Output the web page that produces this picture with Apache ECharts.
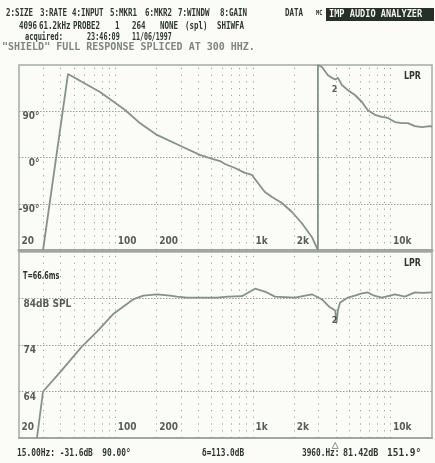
<!DOCTYPE html>
<html><head><meta charset="utf-8">
<script src="https://cdn.jsdelivr.net/npm/echarts@6/dist/echarts.min.js"></script>
<style>html,body{margin:0;padding:0;background:#fbfbf7}#c{width:435px;height:463px}</style>
</head><body><div id="c"></div><script>
// Phase response (degrees, wrapped to +/-180)
const phaseFreqHz = [29.9, 45.4, 77.5, 118, 151, 201, 310, 412, 513, 577, 627, 741, 875, 984, 1088, 1222, 1376, 1626, 1922, 2270, 2685, 2967, 2967, 3173, 3508, 3750, 3960, 4148, 4432, 4899, 5508, 6194, 6842, 7698, 8650, 9572, 10760, 12080, 13360, 15030, 16900, 19320, 20000];
const phaseDeg    = [-180, 162.5, 127.5, 92.4, 67, 44, 20.4, 5, -3, -7, -12.7, -20.4, -30, -34, -49.6, -67, -77, -88.5, -106, -128, -155, -180, 180, 176, 160, 155, 151.9, 155, 141, 131, 121.6, 108, 92, 83, 79, 77, 69, 67, 67, 61, 59, 61, 60];

// Magnitude response (dB SPL)
const levelFreqHz = [27, 29.9, 39.7, 57.4, 73.7, 96.3, 134.6, 160, 201, 250, 281, 332, 548, 659, 832, 1035, 1222, 1446, 2018, 2685, 3173, 3628, 3960, 4050, 4150, 4288, 4899, 5500, 6194, 6842, 7600, 8650, 10760, 12706, 15030, 17000, 19960];
const levelDb     = [54, 64, 68.1, 73.7, 76.9, 80.6, 83.8, 84.6, 84.9, 84.6, 84.4, 84.2, 84.2, 84.4, 84.5, 86.1, 85.5, 84.4, 84.2, 84.9, 83.8, 82.1, 81.42, 78.8, 81.5, 83.1, 84.2, 84.6, 85.1, 85.3, 84.6, 84.2, 84.9, 84.4, 85.3, 85.2, 85.3];

// Axis ticks and labels
const freqTicks = [20, 100, 200, 1000, 2000, 10000];
const freqTickLabels = ['20', '100', '200', '1k', '2k', '10k'];
const freqGridHz = [30, 40, 50, 60, 70, 80, 90, 100, 200, 300, 400, 500, 600, 700, 800, 900, 1000, 2000, 3000, 4000, 5000, 6000, 7000, 8000, 9000, 10000];
const phaseTicks = [90, 0, -90];
const phaseTickLabels = ['90°', '0°', '-90°'];
const levelTicks = [84, 74, 64];
const levelTickLabels = ['84dB SPL', '74', '64'];

// Cursor and marker readouts
const cursorFreqHz = 15.00, cursorLevelDb = -31.6, cursorPhaseDeg = 90.00;
const markerFreqHz = [3960];
const markerLevelDb = [81.42];
const markerPhaseDeg = [151.9];

const INK = '#2c3731';
const CURVE = '#84938a';
const GRIDC = '#8c978f';
const FRAME = '#a3ada5';
const MONO = '"DejaVu Sans Mono", monospace';
const COND = '"DejaVu Sans Condensed", "Liberation Sans Narrow", "DejaVu Sans", sans-serif';

const zip = (xs, ys) => xs.map((x, i) => [x, ys[i]]);

const vGrid = freqGridHz.map(f => ({ xAxis: f }));
const hLine = { color: GRIDC, width: 1, type: [1.5, 1.5] };
const vLine = { color: GRIDC, width: 1, type: [1.2, 5.5], opacity: 0.9 };

function tickLabelSeries(xi, yi, data, style) {
  return {
    type: 'scatter', xAxisIndex: xi, yAxisIndex: yi, symbolSize: 1, silent: true,
    itemStyle: { color: 'transparent' }, animation: false, z: 5,
    data: data,
    label: Object.assign({
      show: true, formatter: p => p.name, color: INK,
      fontFamily: COND, fontWeight: 'bold', fontSize: 10
    }, style)
  };
}

function txt(x, y, s, opt) {
  opt = opt || {};
  return {
    type: 'text', x: x, y: y, scaleX: opt.sx || 0.75, z: 10, silent: true,
    style: {
      text: s, fill: opt.fill || INK, verticalAlign: 'middle', align: opt.align || 'left',
      font: (opt.weight || 'bold') + ' ' + (opt.size || 10) + 'px ' + (opt.family || MONO)
    }
  };
}

const delta = (markerLevelDb[0] - cursorLevelDb).toFixed(1);

const graphics = [
  // header, line 1
  txt(6, 13.5, '2:SIZE'), txt(40, 13.5, '3:RATE'), txt(72, 13.5, '4:INPUT'),
  txt(110, 13.5, '5:MKR1'), txt(145, 13.5, '6:MKR2'), txt(178, 13.5, '7:WINDW'),
  txt(220, 13.5, '8:GAIN'), txt(285, 13.5, 'DATA'), txt(316, 13, 'MC', { size: 7 }),
  { type: 'rect', shape: { x: 326, y: 8, width: 108, height: 13 }, style: { fill: '#26302b' }, z: 9, silent: true },
  txt(329, 14.5, 'IMP AUDIO ANALYZER', { fill: '#f2f2ee', sx: 0.86 }),
  // header, line 2
  txt(19, 26.5, '4096'), txt(39, 26.5, '61.2kHz'), txt(73, 26.5, 'PROBE2'),
  txt(115, 26.5, '1'), txt(132, 26.5, '264'), txt(160, 26.5, 'NONE'),
  txt(185, 26.5, '(spl)'), txt(217, 26.5, 'SHIWFA'),
  // header, line 3
  txt(25, 37, 'acquired:', { sx: 0.7 }), txt(87, 37, '23:46:09', { sx: 0.68 }), txt(132, 37, '11/06/1997', { sx: 0.66 }),
  // header, line 4
  txt(2, 47.5, '"SHIELD" FULL RESPONSE SPLICED AT 300 HHZ.', { fill: '#7c877f', sx: 1.0 }),
  // panel annotations
  txt(23, 276, 'T=66.6ms', { sx: 0.72, family: COND }),
  txt(404, 76, 'LPR', { sx: 0.8, family: COND, size: 11 }),
  txt(404, 263, 'LPR', { sx: 0.8, family: COND, size: 11 }),
  // footer readouts
  txt(17, 453, cursorFreqHz.toFixed(2) + 'Hz: ' + cursorLevelDb.toFixed(1) + 'dB  ' + cursorPhaseDeg.toFixed(2) + '°', { sx: 0.75, size: 10.5 }),
  txt(202, 453, 'δ=' + delta + 'dB', { sx: 0.74, size: 10.5 }),
  txt(302, 453, markerFreqHz[0] + '.Hz:', { sx: 0.74, size: 10.5 }),
  txt(343, 453, markerLevelDb[0].toFixed(2) + 'dB', { sx: 0.8, size: 10.5 }),
  txt(387, 453, markerPhaseDeg[0].toFixed(1) + '°', { sx: 0.9, size: 10.5 })
];

const option = {
  backgroundColor: '#fbfbf7',
  animation: false,
  grid: [
    { left: 19, top: 65, width: 413, height: 185, show: true, borderColor: FRAME, borderWidth: 1.5, backgroundColor: 'transparent' },
    { left: 19, top: 252, width: 413, height: 186, show: true, borderColor: FRAME, borderWidth: 1.5, backgroundColor: 'transparent' }
  ],
  xAxis: [0, 1].map(i => ({
    type: 'log', logBase: 10, min: 20, max: 20000, gridIndex: i,
    axisLabel: { show: false }, axisTick: { show: false }, splitLine: { show: false },
    axisLine: { show: true, onZero: false, lineStyle: { color: '#9ea89f', width: i === 0 ? 3 : 2 } }
  })),
  yAxis: [
    { type: 'value', gridIndex: 0, min: -180, max: 180, axisLabel: { show: false }, axisTick: { show: false }, axisLine: { show: false }, splitLine: { show: false } },
    { type: 'value', gridIndex: 1, min: 54, max: 94, axisLabel: { show: false }, axisTick: { show: false }, axisLine: { show: false }, splitLine: { show: false } }
  ],
  series: [
    {
      name: 'phase', type: 'line', xAxisIndex: 0, yAxisIndex: 0, showSymbol: false, z: 4,
      data: zip(phaseFreqHz, phaseDeg),
      lineStyle: { color: CURVE, width: 1.8 },
      markLine: {
        silent: true, symbol: ['none', 'none'], label: { show: false }, lineStyle: vLine, animation: false,
        data: vGrid.concat(phaseTicks.map(v => ({ yAxis: v, lineStyle: hLine })))
      }
    },
    {
      name: 'level', type: 'line', xAxisIndex: 1, yAxisIndex: 1, showSymbol: false, z: 4,
      data: zip(levelFreqHz, levelDb),
      lineStyle: { color: CURVE, width: 1.8 },
      markLine: {
        silent: true, symbol: ['none', 'none'], label: { show: false }, lineStyle: vLine, animation: false,
        data: vGrid.concat(levelTicks.map(v => ({ yAxis: v, lineStyle: hLine })))
      }
    },
    tickLabelSeries(0, 0, freqTicks.map((f, i) => ({ value: [f, -180], name: freqTickLabels[i] })), { position: [3, -8], verticalAlign: 'middle' }),
    tickLabelSeries(1, 1, freqTicks.map((f, i) => ({ value: [f, 54], name: freqTickLabels[i] })), { position: [3, -10], verticalAlign: 'middle' }),
    tickLabelSeries(0, 0, phaseTicks.map((v, i) => ({ value: [20, v], name: phaseTickLabels[i] })), { position: [21, 6], align: 'right', verticalAlign: 'middle' }),
    tickLabelSeries(1, 1, levelTicks.map((v, i) => ({ value: [20, v], name: levelTickLabels[i] })), { position: [5, 6], verticalAlign: 'middle' }),
    tickLabelSeries(0, 0, markerFreqHz.map((f, i) => ({ value: [f, markerPhaseDeg[i]], name: String(i + 2) })), { position: [0, 11], align: 'center', verticalAlign: 'middle', fontSize: 9 }),
    tickLabelSeries(1, 1, markerFreqHz.map((f, i) => ({ value: [f, markerLevelDb[i]], name: String(i + 2) })), { position: [0, 11], align: 'center', verticalAlign: 'middle', fontSize: 9 }),
    {
      type: 'scatter', xAxisIndex: 1, yAxisIndex: 1, clip: false, silent: true, symbol: 'triangle', symbolSize: 6,
      itemStyle: { color: '#fbfbf7', borderColor: '#6f7b73', borderWidth: 1 },
      data: markerFreqHz.map(f => [f, 52.4])
    }
  ],
  graphic: graphics
};

echarts.init(document.getElementById('c'), null, { renderer: 'canvas' }).setOption(option);
</script></body></html>
